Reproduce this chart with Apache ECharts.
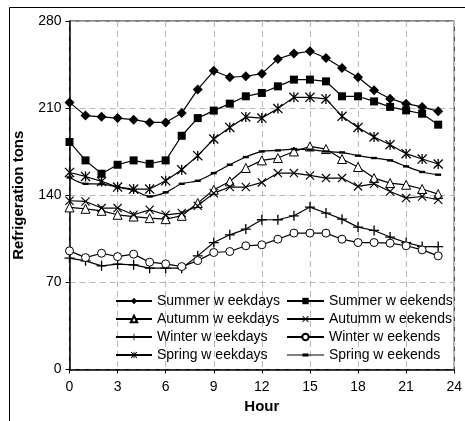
<!DOCTYPE html>
<html>
<head>
<meta charset="utf-8">
<script src="https://cdn.jsdelivr.net/npm/echarts@6/dist/echarts.min.js"></script>
<style>
  html, body { margin: 0; padding: 0; background: #fff; }
  #chart { width: 465px; height: 421px; }
</style>
</head>
<body>
<div id="chart"></div>
<script>
// Hourly refrigeration load profiles (tons) by season and day type
const hours = [0,1,2,3,4,5,6,7,8,9,10,11,12,13,14,15,16,17,18,19,20,21,22,23];

const summerWeekdays = [214.6, 204, 203, 202, 200.7, 198.5, 198.5, 206, 225, 240, 234.8, 235.6, 237.7, 249.5, 253.8, 255.7, 250.3, 242.3, 234.8, 224.3, 217.6, 213.6, 211, 207.4];
const summerWeekends = [182.8, 168, 157.3, 164.5, 168, 165.3, 168, 187.8, 202, 208, 213.6, 219.5, 222.2, 227.5, 232.9, 232.9, 231.5, 219.5, 219.5, 215.4, 211, 208.2, 205.5, 196.7];
const autumnWeekdays = [130.2, 129.1, 127.5, 124.3, 122.9, 121.6, 120.8, 123.5, 133.7, 144.4, 151.1, 161.9, 168, 169.9, 175.2, 179.2, 177.1, 169.1, 162.7, 153.8, 149.8, 148.4, 145, 140.9];
const autumnWeekends = [135.6, 135, 129.7, 129.7, 124.3, 128.3, 124.3, 125.7, 131.5, 141.7, 146.6, 146.6, 150.3, 157.8, 157.8, 155.9, 153.8, 153.8, 147.1, 149.2, 143, 137.7, 139, 136.4];
const winterWeekdays = [89.5, 87.3, 83.3, 84.6, 84.1, 81.4, 81.4, 81.4, 91.3, 102, 108.2, 112.8, 120.3, 120.3, 123.5, 130.5, 125.7, 120.8, 114.4, 111.7, 106.4, 102, 98.8, 98.8];
const winterWeekends = [95.3, 89.9, 93.4, 90.7, 92.7, 86.2, 84.9, 82.7, 87.5, 94, 94.8, 99.4, 100.2, 104.7, 109.6, 109.6, 109.6, 104.7, 102, 102, 101.5, 99.4, 96.1, 91.3];
const springWeekdays = [158.3, 155.1, 151.1, 146.6, 145, 145, 151.6, 160.5, 171.8, 185.2, 194.5, 202.9, 202, 209.6, 218.7, 218.7, 217.4, 203.4, 194.5, 186.8, 180.6, 173.4, 169.1, 165.1];
const springWeekends = [154.3, 149.2, 149, 146.6, 143.9, 139, 142.3, 149.2, 151.6, 157.8, 164.5, 170.7, 175.2, 176, 177.1, 176.6, 175.2, 174.4, 171.8, 169.9, 168, 163.2, 158.7, 156.5];

const namesLeft = ['Summer w eekdays', 'Autumm w eekdays', 'Winter w eekdays', 'Spring w eekdays'];
const namesRight = ['Summer w eekends', 'Autumm w eekends', 'Winter w eekends', 'Spring w eekends'];

const xTicks = { min: 0, max: 24, interval: 3 };
const yTicks = { min: 0, max: 280, interval: 70 };

// Marker shapes drawn as filled outlines in a 20x20 box
const PLUS = 'path://M8.7,0H11.3V8.7H20V11.3H11.3V20H8.7V11.3H0V8.7H8.7Z';
const CROSS = 'path://M0,1.8L1.8,0L20,18.2L18.2,20Z M20,1.8L1.8,20L0,18.2L18.2,0Z';
const STAR = 'path://M8.7,0H11.3V20H8.7Z M0,1.8L1.8,0L20,18.2L18.2,20Z M20,1.8L1.8,20L0,18.2L18.2,0Z';
const DASH = 'path://M0,0H10V4H0Z';
// legend key for the dash series: a thin line with the small dash centred on it
const DASH_KEY = 'path://M0,1.6H37V2.4H0Z M15.5,0.5H21.5V3.5H15.5Z';

const FONT = '"Liberation Sans", Arial, sans-serif';

function pairs(vals) {
  return hours.map((h, i) => [h, vals[i]]);
}

function lineSeries(name, vals, symbol, size, hollow, extra) {
  return Object.assign({
    name: name,
    type: 'line',
    data: pairs(vals),
    symbol: symbol,
    symbolSize: size,
    showAllSymbol: true,
    lineStyle: { color: '#000', width: 1.2 },
    itemStyle: hollow
      ? { color: '#fff', borderColor: '#000', borderWidth: 1 }
      : { color: '#000', borderWidth: 0 },
    emphasis: { disabled: true },
    animation: false,
    z: 3
  }, extra || {});
}

const chart = echarts.init(document.getElementById('chart'), null, { renderer: 'canvas' });

const legendBase = {
  orient: 'vertical',
  top: 294,
  padding: 0,
  itemWidth: 36,
  itemHeight: 8,
  itemGap: 4,
  symbolKeepAspect: true,
  textStyle: { fontFamily: FONT, fontSize: 14, color: '#000', lineHeight: 13 },
  selectedMode: false
};

const gridDash = { color: '#b8b8b8', type: [6, 4], width: 1 };

chart.setOption({
  backgroundColor: '#fff',
  animation: false,
  graphic: [{
    type: 'rect',
    shape: { x: 9.5, y: 7.5, width: 700, height: 700 },
    style: { fill: 'none', stroke: '#000', lineWidth: 1 },
    silent: true,
    z: 0
  }],
  grid: {
    left: 69.5, top: 21, right: 3.3, bottom: 51.5,
    show: true, borderColor: '#000', borderWidth: 1,
    backgroundColor: 'transparent'
  },
  legend: [
    Object.assign({}, legendBase, { left: 115, data: namesLeft }),
    Object.assign({}, legendBase, {
      left: 286, itemWidth: 37,
      data: namesRight.slice(0, 3).concat([{ name: namesRight[3], icon: DASH_KEY, itemStyle: { color: '#000' } }])
    })
  ],
  xAxis: {
    type: 'value',
    min: xTicks.min, max: xTicks.max, interval: xTicks.interval,
    name: 'Hour',
    nameLocation: 'middle',
    nameGap: 30,
    nameTextStyle: { fontFamily: FONT, fontSize: 15, fontWeight: 'bold', color: '#000' },
    axisLine: { lineStyle: { color: '#000', width: 1.5 } },
    axisTick: { length: 4, lineStyle: { color: '#000' } },
    axisLabel: { margin: 11, fontFamily: FONT, fontSize: 14, color: '#000' },
    splitLine: { show: true, lineStyle: gridDash }
  },
  yAxis: {
    type: 'value',
    min: yTicks.min, max: yTicks.max, interval: yTicks.interval,
    name: 'Refrigeration tons',
    nameLocation: 'middle',
    nameGap: 43,
    nameTextStyle: { fontFamily: FONT, fontSize: 15, fontWeight: 'bold', color: '#000' },
    axisLine: { show: true, lineStyle: { color: '#000', width: 1.5 } },
    axisTick: { show: true, length: 4, lineStyle: { color: '#000' } },
    axisLabel: { margin: 8, fontFamily: FONT, fontSize: 14, color: '#000' },
    splitLine: { show: true, lineStyle: gridDash }
  },
  series: [
    lineSeries(namesLeft[0], summerWeekdays, 'diamond', 10, false),
    lineSeries(namesRight[0], summerWeekends, 'rect', 8, false),
    lineSeries(namesLeft[1], autumnWeekdays, 'triangle', 9, true),
    lineSeries(namesRight[1], autumnWeekends, CROSS, 9, false),
    lineSeries(namesLeft[2], winterWeekdays, PLUS, 10, false),
    lineSeries(namesRight[2], winterWeekends, 'circle', 8, true),
    lineSeries(namesLeft[3], springWeekdays, STAR, 10, false),
    lineSeries(namesRight[3], springWeekends, DASH, 6, false, { symbolKeepAspect: true, smooth: 0.3 })
  ]
});
</script>
</body>
</html>
